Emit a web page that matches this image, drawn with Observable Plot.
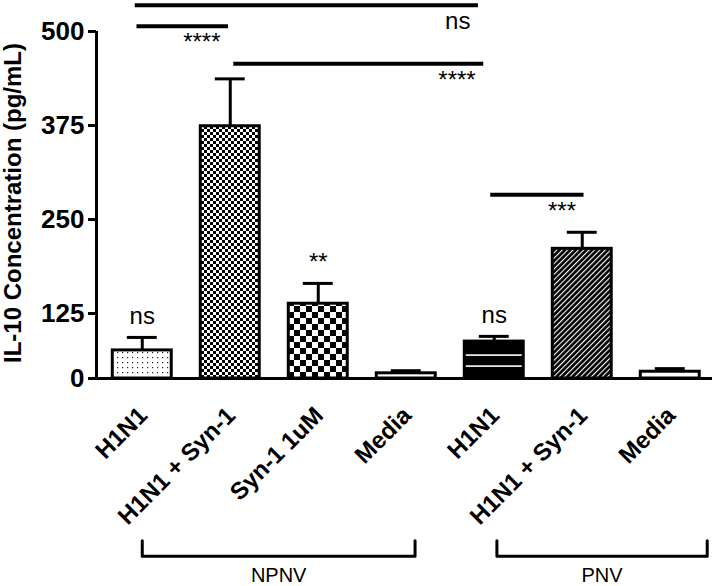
<!DOCTYPE html>
<html><head><meta charset="utf-8">
<script src="https://cdn.jsdelivr.net/npm/d3@7"></script>
<script src="https://cdn.jsdelivr.net/npm/@observablehq/plot@0.6"></script>
<style>body{margin:0;background:#fff} svg{display:block}</style>
</head><body><div id="chart"></div>
<script>
// ---- data ----
const labels = ["H1N1", "H1N1 + Syn-1", "Syn-1 1uM", "Media", "H1N1", "H1N1 + Syn-1", "Media"];
const means = [54, 374, 138, 10, 71, 211, 13];
const errors = [25, 63, 27, 5, 10, 22, 6];
const barMarks = ["ns", "", "**", "", "ns", "", ""];
const patterns = ["dots", "checkFine", "checkCoarse", "none", "hlines", "diag", "none"];
const yTicks = [0, 125, 250, 375, 500];
const sigFrom = [-0.08, -0.06, 1.04, 3.96];
const sigTo = [3.82, 0.98, 3.88, 5.02];
const sigLevel = [535, 507, 457, 283];
const sigText = ["ns", "****", "****", "***"];
const groupNames = ["NPNV", "PNV"];
const groupFrom = [0, 4.03];
const groupTo = [3.1, 6.42];
const yLabel = "IL-10 Concentration (pg/mL)";

// ---- layout constants ----
const xDomain = [-0.52, 6.48];
const bracketTop = -312, bracketBottom = -342, groupLabelY = -379;

const bars = labels.map((label, i) => ({
  i, label, mean: means[i], top: means[i] + errors[i], mark: barMarks[i],
  fill: patterns[i] === "none" ? "white" : `url(#p-${patterns[i]})`
}));
const sigs = sigText.map((t, k) => ({from: sigFrom[k], to: sigTo[k], level: sigLevel[k], text: t}));
const groups = groupNames.map((name, k) => ({name, from: groupFrom[k], to: groupTo[k]}));
const bracketPts = groups.flatMap(g => [
  {g: g.name, x: g.from, y: bracketTop},
  {g: g.name, x: g.from, y: bracketBottom},
  {g: g.name, x: g.to, y: bracketBottom},
  {g: g.name, x: g.to, y: bracketTop}
]);

const plot = Plot.plot({
  width: 714, height: 586,
  marginLeft: 96, marginRight: 2, marginTop: 31, marginBottom: 208,
  x: {type: "linear", domain: xDomain, axis: null},
  y: {type: "linear", domain: [0, 125, 500], range: [378, 313, 31], axis: null},
  color: {type: "identity"},
  style: {fontFamily: "'Liberation Sans', Arial, sans-serif", background: "white", overflow: "visible", color: "black"},
  marks: [
    Plot.rectY(bars, {x1: d => d.i - 0.335, x2: d => d.i + 0.335, y1: 0, y2: "mean", fill: "fill", stroke: "black", strokeWidth: 3}),
    Plot.ruleX(bars, {x: "i", y1: "mean", y2: "top", stroke: "black", strokeWidth: 3}),
    Plot.ruleY(bars, {x1: d => d.i - 0.17, x2: d => d.i + 0.17, y: "top", stroke: "black", strokeWidth: 3}),
    Plot.text(bars.filter(d => d.mark), {x: "i", y: "top", text: "mark", lineAnchor: "bottom", dy: -13, fontSize: 24, fill: "black"}),
    Plot.ruleY(sigs, {x1: "from", x2: "to", y: "level", stroke: "black", strokeWidth: 4}),
    Plot.text(sigs, {x: "to", y: "level", text: "text", textAnchor: "end", lineAnchor: "bottom", dx: -8, dy: 24, fontSize: 24, fill: "black"}),
    Plot.ruleX([xDomain[0]], {y1: 0, y2: 500, stroke: "black", strokeWidth: 3}),
    Plot.ruleY([0], {x1: xDomain[0], x2: xDomain[1], stroke: "black", strokeWidth: 3}),
    Plot.axisY({ticks: yTicks, tickSize: 8, tickPadding: 4, stroke: "black", strokeWidth: 3, fontSize: 26, fontWeight: "bold", label: null, tickFormat: d => String(d)}),
    Plot.text(bars, {x: "i", y: 0, text: "label", rotate: -45, textAnchor: "end", lineAnchor: "middle", dx: 1, dy: 33, fontSize: 24, fontWeight: "bold", fill: "black"}),
    Plot.line(bracketPts, {x: "x", y: "y", z: "g", stroke: "black", strokeWidth: 3}),
    Plot.text(groups, {x: d => (d.from + d.to) / 2, y: groupLabelY, text: "name", fontSize: 20, fill: "black"}),
    Plot.text([yLabel], {frameAnchor: "left", rotate: -90, textAnchor: "middle", lineAnchor: "middle", dx: -83, dy: -2, fontSize: 24, fontWeight: "bold", fill: "black"})
  ]
});

const svg = d3.select(plot);
const defs = svg.insert("defs", ":first-child");
function pat(id, w, h, extra) {
  const p = defs.append("pattern").attr("id", id).attr("patternUnits", "userSpaceOnUse").attr("width", w).attr("height", h);
  if (extra) p.attr("patternTransform", extra);
  return p;
}
let p = pat("p-dots", 5, 5);
p.append("rect").attr("width", 5).attr("height", 5).attr("fill", "white");
p.append("rect").attr("x", 2).attr("y", 2).attr("width", 1.2).attr("height", 1.2).attr("fill", "#222");
p = pat("p-checkFine", 6, 6);
p.append("rect").attr("width", 6).attr("height", 6).attr("fill", "white");
p.append("rect").attr("width", 3).attr("height", 3).attr("fill", "black");
p.append("rect").attr("x", 3).attr("y", 3).attr("width", 3).attr("height", 3).attr("fill", "black");
p = pat("p-checkCoarse", 12, 12);
p.append("rect").attr("width", 12).attr("height", 12).attr("fill", "white");
p.append("rect").attr("width", 6).attr("height", 6).attr("fill", "black");
p.append("rect").attr("x", 6).attr("y", 6).attr("width", 6).attr("height", 6).attr("fill", "black");
p = pat("p-hlines", 10, 36);
p.append("rect").attr("width", 10).attr("height", 36).attr("fill", "black");
p.append("rect").attr("y", 5.3).attr("width", 10).attr("height", 1.6).attr("fill", "white");
p.append("rect").attr("y", 30.3).attr("width", 10).attr("height", 1.6).attr("fill", "white");
p = pat("p-diag", 3.8, 3.8, "rotate(45)");
p.append("rect").attr("width", 3.8).attr("height", 3.8).attr("fill", "black");
p.append("rect").attr("width", 1.1).attr("height", 3.8).attr("fill", "white");

document.getElementById("chart").appendChild(plot);
</script>
</body></html>
